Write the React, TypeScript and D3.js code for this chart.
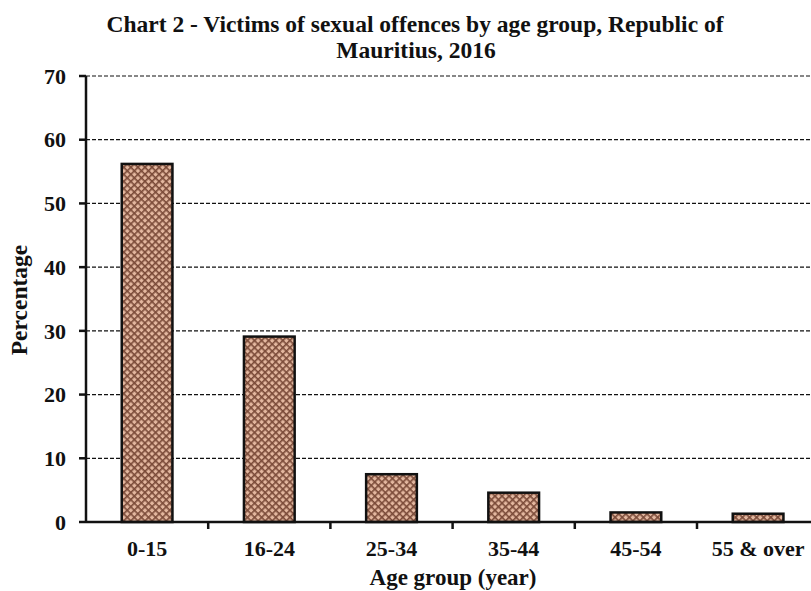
import React from "react";
import * as d3 from "d3";

const categories = ["0-15", "16-24", "25-34", "35-44", "45-54", "55 & over"];
const percentages = [56.2, 29.1, 7.5, 4.6, 1.5, 1.3];
const yTicks = [0, 10, 20, 30, 40, 50, 60, 70];

const W = 811;
const H = 591;
const FONT = "Liberation Serif, DejaVu Serif, serif";

export default function App() {
  const x0 = 86;
  const band = 122.2;
  const x = d3
    .scaleBand<string>()
    .domain(categories)
    .range([x0, x0 + band * categories.length])
    .paddingInner(0.585)
    .paddingOuter(0.2925);
  const y = d3.scaleLinear().domain([0, 70]).range([522, 76]);

  const txt = { fontFamily: FONT, fontWeight: 700 as const };

  return (
    <svg
      width={W}
      height={H}
      style={{ position: "absolute", left: 0, top: 0, background: "#fff" }}
    >
      <defs>
        <pattern id="weave" width="5" height="5" patternUnits="userSpaceOnUse" patternTransform="rotate(45)">
          <rect width="5" height="5" fill="#e3b79f" />
          <rect x="0" y="0" width="5" height="1.6" fill="#7a4a38" />
          <rect x="0" y="0" width="1.6" height="5" fill="#7a4a38" />
        </pattern>
      </defs>
      <rect width={W} height={H} fill="#fff" />

      {/* title */}
      <text x={415} y={32} textAnchor="middle" fontSize={23.5} fill="#111" style={txt}>
        Chart 2 - Victims of sexual offences by age group, Republic of
      </text>
      <text x={416} y={58} textAnchor="middle" fontSize={23.5} fill="#111" style={txt}>
        Mauritius, 2016
      </text>

      {/* gridlines */}
      {yTicks.filter((t) => t > 0).map((t) => (
        <line
          key={t}
          x1={x0}
          x2={W}
          y1={y(t)}
          y2={y(t)}
          stroke="#111"
          strokeWidth={1.2}
          strokeDasharray="4 2"
        />
      ))}

      {/* bars */}
      {categories.map((c, i) => (
        <rect
          key={c}
          x={x(c)!}
          y={y(percentages[i])}
          width={x.bandwidth()}
          height={y(0) - y(percentages[i])}
          fill="url(#weave)"
          stroke="#111"
          strokeWidth={2.5}
        />
      ))}

      {/* y axis */}
      <line x1={x0} x2={x0} y1={y(70)} y2={y(0)} stroke="#111" strokeWidth={2.5} />
      {yTicks.map((t) => (
        <g key={t}>
          <line x1={x0 - 7} x2={x0} y1={y(t)} y2={y(t)} stroke="#111" strokeWidth={2.5} />
          <text x={x0 - 20} y={y(t)} dy="0.35em" textAnchor="end" fontSize={22} fill="#111" style={txt}>
            {t}
          </text>
        </g>
      ))}

      {/* x axis */}
      <line x1={x0} x2={W} y1={y(0)} y2={y(0)} stroke="#111" strokeWidth={2.5} />
      {categories.map((c, i) => (
        <line
          key={c}
          x1={x0 + band * (i + 1)}
          x2={x0 + band * (i + 1)}
          y1={y(0)}
          y2={y(0) + 7}
          stroke="#111"
          strokeWidth={2.5}
        />
      ))}
      {categories.map((c) => (
        <text
          key={c}
          x={x(c)! + x.bandwidth() / 2}
          y={556}
          textAnchor="middle"
          fontSize={22}
          fill="#111"
          style={txt}
        >
          {c}
        </text>
      ))}

      <text x={453} y={585} textAnchor="middle" fontSize={23} fill="#111" style={txt}>
        Age group (year)
      </text>
      <text
        transform={`translate(27, 300) rotate(-90)`}
        textAnchor="middle"
        fontSize={23.5}
        fill="#111"
        style={txt}
      >
        Percentage
      </text>
    </svg>
  );
}
